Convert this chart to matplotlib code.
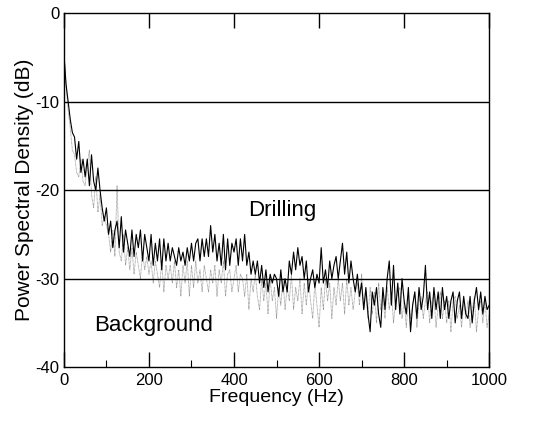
import numpy as np
import matplotlib
matplotlib.use("Agg")
import matplotlib.pyplot as plt
from matplotlib.ticker import MultipleLocator, FixedLocator

plt.rcParams['font.family'] = ['Liberation Sans', 'DejaVu Sans']
plt.rcParams['axes.unicode_minus'] = False

# frequency grid (Hz), one reading every 5 Hz
freq = np.arange(0, 1001, 5)

# drilling spectrum (dB)
drilling = [
    -4.5, -8, -10, -12, -13.5, -14, -16.5, -14.5, -18, -16.5,
    -18.5, -16.5, -19.5, -16, -19, -20, -17.5, -20, -22, -23.5,
    -22, -25, -23.5, -26.5, -24.5, -23.5, -26.5, -23, -27, -24.5,
    -26, -27.5, -24.5, -27.5, -25, -26.5, -24.5, -28, -25, -26.5,
    -28, -25, -28.5, -26, -28, -25.5, -29, -25.5, -28, -26,
    -28, -26.5, -27.5, -28.5, -26.5, -28, -27, -28.5, -26.5, -28,
    -26, -28, -26, -25.5, -28, -25.5, -27.5, -25.5, -27.5, -24,
    -27, -25, -28, -26, -28.5, -25, -29, -25.5, -28.5, -26,
    -27, -25.5, -28.5, -25.5, -28, -25, -28.5, -27, -29.5, -28,
    -29.5, -28, -30.5, -28.5, -31, -29, -31.5, -29.5, -30.5, -29.5,
    -30, -32, -29, -31.5, -30, -31.5, -28, -29.5, -27, -29,
    -26.5, -28.5, -27.5, -30, -28, -31.5, -30, -29, -31, -29.5,
    -30.5, -26.5, -30.5, -29, -31, -28, -30, -28.5, -27.5, -30,
    -28, -26, -29.5, -27, -30.5, -28, -30, -31.5, -29.5, -32,
    -30.5, -33.5, -31, -34, -36, -31.5, -33, -31, -34, -35.5,
    -31, -33.5, -30, -28, -33, -28.5, -33.5, -30.5, -34, -30,
    -32.5, -34, -31, -36, -33, -31.5, -34.5, -31, -33.5, -32,
    -28.5, -33.5, -31.5, -34.5, -31, -33.5, -31.5, -34.5, -31, -33.5,
    -32, -34.5, -32.5, -31.5, -35, -32.5, -31.5, -34.5, -32, -34,
    -34.5, -32, -35, -32.5, -31, -33.5, -31.5, -34, -32, -33.5,
    -33,
]

# background spectrum (dB)
background = [
    -4.5, -8, -11, -13, -15.5, -16, -18, -18.5, -16.5, -19,
    -19.5, -17, -15.5, -20.5, -22, -18.5, -22.5, -20.5, -24, -23,
    -24, -25, -27, -24.5, -27.5, -19.5, -27, -28, -25, -28.5,
    -26.5, -29, -26.5, -29.5, -27, -28.5, -30, -27, -29, -27.5,
    -29.5, -28, -30.5, -28, -29.5, -31, -28, -31.5, -28.5, -30,
    -28.5, -30.5, -28, -31, -29, -32, -28.5, -30.5, -28, -32,
    -28.5, -31, -28, -30.5, -29, -31.5, -28.5, -30, -31.5, -29,
    -30.5, -28.5, -32, -29, -30.5, -28, -32, -29.5, -29, -31.5,
    -30, -28.5, -31.5, -29.5, -30, -32, -29.5, -33.5, -30, -31.5,
    -29.5, -32, -33.5, -30, -32.5, -30.5, -34, -30, -32.5, -31,
    -34.5, -31, -33, -30, -33.5, -31, -32.5, -29.5, -33.5, -31,
    -32.5, -30, -34, -30.5, -33, -30, -32.5, -34.5, -30.5, -33,
    -35.5, -31, -33.5, -30, -32.5, -30.5, -34.5, -31, -33, -30,
    -32.5, -30.5, -34, -30, -33, -31, -33.5, -31.5, -30.5, -33,
    -29.5, -33.5, -31.5, -34.5, -31, -34, -31.5, -35, -30.5, -33.5,
    -32, -34.5, -31, -33.5, -31.5, -35, -32.5, -31.5, -31, -34.5,
    -32.5, -35.5, -32, -34.5, -33, -31.5, -35.5, -32.5, -32, -34.5,
    -32.5, -31.5, -35, -32.5, -32, -35.5, -33, -31.5, -34.5, -32.5,
    -35, -32.5, -36, -32.5, -32, -34.5, -33, -35.5, -32.5, -34.5,
    -32.5, -35.5, -33.5, -32, -36, -33.5, -32.5, -35, -32.5, -35.5,
    -34,
]

fig = plt.figure(figsize=(5.46, 4.23), dpi=100)
ax = fig.add_axes([0.117, 0.132, 0.779, 0.837])

ax.plot(freq, background, color='0.6', lw=0.6, ls=(0, (1, 0.6)))
ax.plot(freq, drilling, color='black', lw=0.8)

for yv in (-10, -20, -30):
    ax.axhline(yv, color='black', lw=1.0, zorder=3)

ax.set_xlim(0, 1000)
ax.set_ylim(-40, 0)
ax.xaxis.set_major_locator(MultipleLocator(200))
ax.xaxis.set_minor_locator(FixedLocator([100, 300, 500, 700, 900]))
ax.yaxis.set_major_locator(MultipleLocator(10))
ax.tick_params(axis='x', which='major', direction='in', length=11, width=1,
               top=True, labelsize=12, pad=4)
ax.tick_params(axis='x', which='minor', direction='in', length=5, width=0.8)
ax.tick_params(axis='y', length=0, labelsize=12, pad=3)

for s in ax.spines.values():
    s.set_linewidth(1.0)

ax.set_xlabel('Frequency (Hz)', fontsize=14, labelpad=1)
ax.set_ylabel('Power Spectral Density (dB)', fontsize=15, labelpad=1)

ax.text(513, -22.3, 'Drilling', fontsize=16, ha='center', va='center')
ax.text(210, -35.3, 'Background', fontsize=16, ha='center', va='center')

fig.savefig('out.png', dpi=100)
